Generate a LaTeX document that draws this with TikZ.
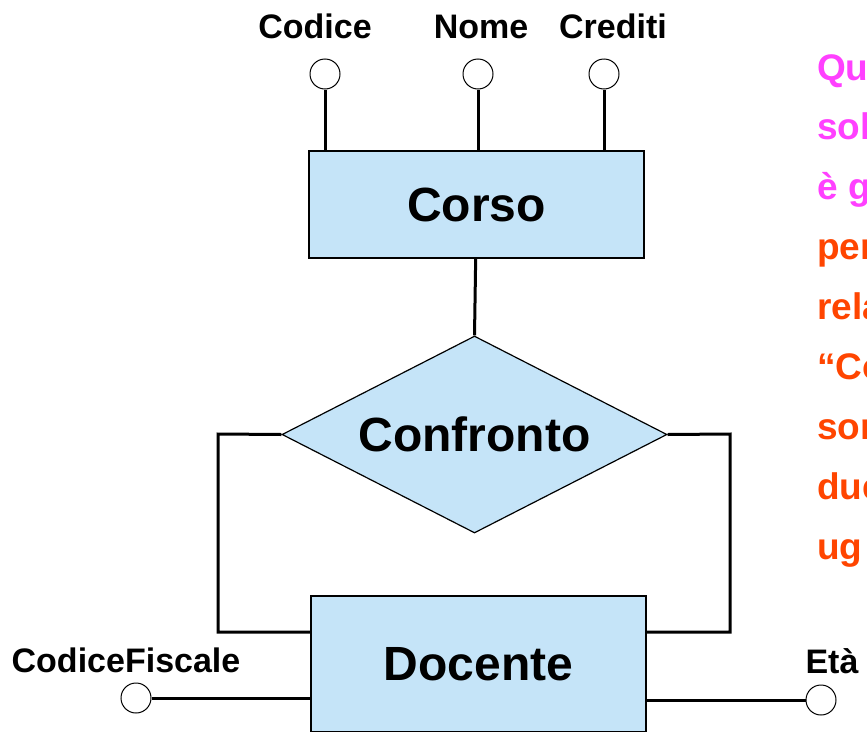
\documentclass[tikz,border=0pt]{standalone}
\usepackage{fontspec}
\setmainfont{Liberation Sans}
\usetikzlibrary{shapes.geometric}

\definecolor{erblue}{RGB}{197,228,248}
\definecolor{notepink}{RGB}{255,64,255}
\definecolor{notered}{RGB}{255,69,0}

\tikzset{
    entity/.style = {draw, fill = erblue, line width = 1.2pt, minimum width = 335pt, inner sep = 0pt, font = \fontsize{48}{56}\selectfont\bfseries},
    relation/.style = {draw, shape = diamond, fill = erblue, line width = 1.2pt, aspect = 1.95, minimum width = 385pt, minimum height = 197pt, inner sep = 0pt, font = \fontsize{48}{56}\selectfont\bfseries},
    attr/.style = {draw, shape = circle, fill = white, line width = 1pt, minimum size = 30pt, inner sep = 0pt},
    attrname/.style = {anchor = base, font = \fontsize{34}{40}\selectfont\bfseries},
    link/.style = {line width = 3pt},
    note/.style = {anchor = base west, inner sep = 0pt, font = \fontsize{37}{44}\selectfont\bfseries}
}

\begin{document}
\begin{tikzpicture}[x = 1pt, y = -1pt]
    \useasboundingbox (0,0) rectangle (867,731);
    \clip (0,0) rectangle (867,731);

    \node [entity, minimum height = 107pt] (corso) at (476.5,204.5) {Corso};
    \node [relation] (confronto) at (474.5,434.5) {Confronto};
    \node [entity, minimum height = 136pt] (docente) at (478.5,664) {Docente};

    \node [attr] (codice) at (325,74) {};
    \node [attrname] (Codice) at (315,38) {Codice};
    \node [attr] (nome) at (478,74) {};
    \node [attrname] (Nome) at (481,38) {Nome};
    \node [attr] (crediti) at (604,74) {};
    \node [attrname] (Crediti) at (613,38) {Crediti};
    \node [attr] (cf) at (136,698) {};
    \node [attrname] (CF) at (126,672) {CodiceFiscale};
    \node [attr] (eta) at (821,700) {};
    \node [attrname] (Eta) at (832,673) {Età};

    \coordinate (lt) at (218,434);
    \coordinate (lb) at (218,632);
    \coordinate (rt) at (730,434);
    \coordinate (rb) at (730,632);

    \draw [link] (codice) to (codice |- corso.north);
    \draw [link] (nome) to (nome |- corso.north);
    \draw [link] (crediti) to (crediti |- corso.north);
    \draw [link] (corso) to (confronto.north);
    \draw [link] (confronto.west) -- (lt) -- (lb) -- (lb -| docente.west);
    \draw [link] (confronto.east) -- (rt) -- (rb) -- (rb -| docente.east);
    \draw [link] (cf) to (cf -| docente.west);
    \draw [link] (eta) to (eta -| docente.east);

    \node [note, text = notepink] (n1) at (817,80) {Qu};
    \node [note, text = notepink] (n2) at (817,139) {sol};
    \node [note, text = notepink] (n3) at (817,199) {è g};
    \node [note, text = notered] (n4) at (817,259) {per};
    \node [note, text = notered] (n5) at (817,319) {rela};
    \node [note, text = notered] (n6) at (817,379) {“Co};
    \node [note, text = notered] (n7) at (817,439) {son};
    \node [note, text = notered] (n8) at (817,499) {due};
    \node [note, text = notered] (n9) at (817,559) {ug};
\end{tikzpicture}
\end{document}
